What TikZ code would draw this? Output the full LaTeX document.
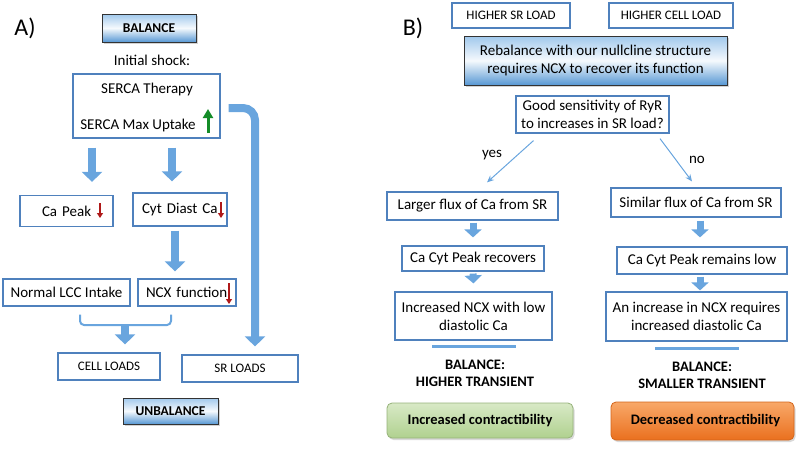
\documentclass[tikz,border=0pt]{standalone}
\usepackage{fontspec}
\setmainfont{Carlito}
\usepackage{xcolor}
\usetikzlibrary{arrows.meta,shadows}

\definecolor{boxblue}{RGB}{79,129,189}
\definecolor{arrblue}{RGB}{105,165,222}
\definecolor{hdrtop}{RGB}{160,200,236}
\definecolor{hdrbot}{RGB}{88,152,212}
\definecolor{downred}{RGB}{175,25,25}
\definecolor{upgreen}{RGB}{20,140,40}
\definecolor{gtop}{RGB}{216,233,198}
\definecolor{gbot}{RGB}{176,209,143}
\definecolor{otop}{RGB}{248,168,105}
\definecolor{obot}{RGB}{234,112,30}

\newcommand{\txt}{\fontsize{15}{18}\selectfont}
\newcommand{\smtxt}{\fontsize{13}{15}\selectfont}

\tikzset{
  box/.style={draw=boxblue,line width=1.2pt,fill=white,inner sep=2pt,align=center,font=\txt},
  smbox/.style={box,font=\smtxt},
  hdr/.style={draw=black!80,line width=.8pt,top color=hdrtop,bottom color=hdrbot,middle color=white!90!hdrtop,
    drop shadow={opacity=.35,shadow xshift=1.5pt,shadow yshift=-2pt},align=center},
  fatarrow/.style={draw=arrblue,line width=8pt,-{Triangle[length=10pt,width=20pt]}},
  midarrow/.style={draw=arrblue,line width=7pt,-{Triangle[length=8pt,width=17pt]}},
  thinarrow/.style={draw=arrblue,line width=1pt,-{Stealth[length=7pt,width=6pt]}},
  redarrow/.style={draw=downred,line width=1.6pt,-{Triangle[length=5pt,width=6pt]}},
  result/.style={rounded corners=5pt,line width=.8pt,align=center,font=\fontsize{14.5}{17}\selectfont\bfseries,
    drop shadow={opacity=.3,shadow xshift=1.5pt,shadow yshift=-2pt}}
}

\begin{document}
\begin{tikzpicture}[x=1pt,y=-1pt]
  \useasboundingbox (0,0) rectangle (800,448);

  % panel A
  \node (labA) at (25,28) {\fontsize{24}{26}\selectfont A)};
  \node[hdr,minimum width=94pt,minimum height=28pt,font=\fontsize{13.5}{15}\selectfont\bfseries] (balance) at (149,28) {BALANCE};
  \node[font=\txt] (shock) at (152,60) {Initial shock:};
  \node[box,minimum width=147pt,minimum height=64pt] (serca) at (146.5,106) {};
  \node[font=\txt] (serT) at (147,89) {SERCA Therapy};
  \node[font=\txt] (serM) at (138,125) {SERCA Max Uptake};
  \draw[draw=upgreen,line width=3pt,-{Triangle[length=9pt,width=10pt]}] (208,133) -- (208,109);

  \node[box,minimum width=93pt,minimum height=31pt,text width=85pt,align=left] (capeak) at (66.5,211) {\hspace*{18pt}Ca Peak};
  \node[box,minimum width=94pt,minimum height=33pt,text width=86pt,align=left] (cytca) at (180,209.5) {\hspace*{5pt}Cyt Diast Ca};
  \node[box,minimum width=127pt,minimum height=27pt] (lcc) at (66.5,292.5) {Normal LCC Intake};
  \node[box,minimum width=98pt,minimum height=27pt,text width=90pt,align=left] (ncx) at (187,292.5) {\hspace*{4pt}NCX function};
  \node[smbox,minimum width=102pt,minimum height=27pt] (cellloads) at (109,366.5) {CELL LOADS};
  \node[smbox,minimum width=116pt,minimum height=27pt] (srloads) at (240,368.5) {SR LOADS};
  \node[hdr,minimum width=95pt,minimum height=26pt,font=\fontsize{13.5}{15}\selectfont\bfseries] (unbalance) at (170.5,411) {UNBALANCE};

  \draw[redarrow] (100,203) -- (100,218);
  \draw[redarrow] (221,202) -- (221,218);
  \draw[redarrow] (229,283) -- (229,304);

  \draw[fatarrow] ([xshift=-54.5pt,yshift=-9pt]serca.south) -- ([xshift=25.5pt,yshift=13pt]capeak.north);
  \draw[fatarrow] ([xshift=25.5pt,yshift=-9pt]serca.south) -- ([xshift=-8pt,yshift=11pt]cytca.north);
  \draw[fatarrow] ([xshift=-5pt,yshift=-4pt]cytca.south) -- ([xshift=-12pt,yshift=7pt]ncx.north);
  \coordinate (brk) at (125,325);
  \draw[draw=arrblue,line width=2pt,rounded corners=4pt]
    ([xshift=13.5pt,yshift=-8pt]lcc.south) |- (brk) -| ([xshift=-16pt,yshift=-8pt]ncx.south);
  \draw[fatarrow] (brk) -- ([xshift=16pt,yshift=8pt]cellloads.north);
  \draw[fatarrow,rounded corners=12pt] ([xshift=8pt,yshift=-2pt]serca.east) -| ([xshift=15pt,yshift=8pt]srloads.north);

  % panel B
  \node (labB) at (413,28) {\fontsize{24}{26}\selectfont B)};
  \node[smbox,minimum width=118pt,minimum height=25pt] (hsr) at (511,15.5) {HIGHER SR LOAD};
  \node[smbox,minimum width=124pt,minimum height=25pt] (hcell) at (671,15.5) {HIGHER CELL LOAD};
  \node[hdr,minimum width=263pt,minimum height=49pt,font=\txt] (rebal) at (595.5,60.5)
    {Rebalance with our nullcline structure\\requires NCX to recover its function};
  \node[box,minimum width=153pt,minimum height=37pt] (question) at (592.5,114.5)
    {Good sensitivity of RyR\\to increases in SR load?};

  \node[box,minimum width=171pt,minimum height=28pt] (larger) at (472.5,206) {Larger flux of Ca from SR};
  \node[box,minimum width=170pt,minimum height=29pt] (similar) at (696,202.5) {Similar flux of Ca from SR};
  \node[box,minimum width=142pt,minimum height=25pt] (ccpr) at (473,258.5) {Ca Cyt Peak recovers};
  \node[box,minimum width=170pt,minimum height=27pt] (ccprl) at (702,260.5) {Ca Cyt Peak remains low};
  \node[box,minimum width=157pt,minimum height=48pt] (incncx) at (473.5,316) {Increased NCX with low\\diastolic Ca};
  \node[box,minimum width=181pt,minimum height=49pt] (anincr) at (696.5,316.5) {An increase in NCX requires\\increased diastolic Ca};

  \draw[thinarrow] ([xshift=-59pt,yshift=-7pt]question.south) -- ([xshift=14.5pt,yshift=9pt]larger.north);
  \draw[thinarrow] ([xshift=67.5pt,yshift=-5pt]question.south) -- ([xshift=-4pt,yshift=6pt]similar.north);
  \node[font=\txt] (yes) at (492,155) {yes};
  \node[font=\txt] (no) at (697,160) {no};

  \foreach \from/\to/\dx in {larger/ccpr/0.5,ccpr/incncx/0}
    \draw[midarrow] ([xshift=\dx pt,yshift=-2pt]\from.south) -- ([yshift=8pt]\to.north);
  \draw[midarrow] ([xshift=4pt,yshift=-3pt]similar.south) -- ([xshift=-2pt,yshift=9pt]ccprl.north);
  \draw[midarrow] ([xshift=-2pt,yshift=-2pt]ccprl.south) -- ([xshift=3.5pt,yshift=1pt]anincr.north);
  \draw[draw=arrblue,line width=3pt] (432,346) -- (516,346);
  \draw[draw=arrblue,line width=3pt] (655,348) -- (739,348);

  \node[align=center,font=\fontsize{14.5}{17}\selectfont\bfseries] (bal1) at (475,373.5) {BALANCE:\\HIGHER TRANSIENT};
  \node[align=center,font=\fontsize{14.5}{17}\selectfont\bfseries] (bal2) at (702,375.5) {BALANCE:\\SMALLER TRANSIENT};
  \node[result,draw=gbot!85!black,top color=gtop,bottom color=gbot,minimum width=186pt,minimum height=35pt] (incc) at (480,420.5) {Increased contractibility};
  \node[result,draw=obot!90!black,top color=otop,bottom color=obot,minimum width=183pt,minimum height=38pt] (decc) at (702.5,421) {\hspace*{6pt}Decreased contractibility};
\end{tikzpicture}
\end{document}
